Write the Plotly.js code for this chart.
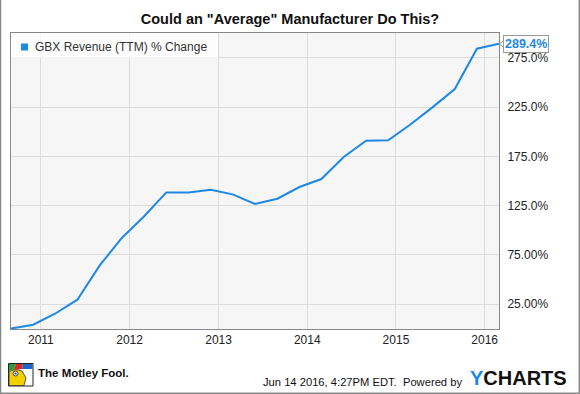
<!DOCTYPE html>
<html>
<head>
<meta charset="utf-8">
<script src="https://cdn.plot.ly/plotly-3.0.1.min.js"></script>
<style>html,body{margin:0;padding:0;background:#fff;}#chart{width:580px;height:394px;}</style>
</head>
<body>
<div id="chart"></div>
<script>
// Quarterly dates (Greenbrier fiscal quarter ends)
const dates = ['2010-08-31','2010-11-30','2011-02-28','2011-05-31','2011-08-31','2011-11-30',
  '2012-02-29','2012-05-31','2012-08-31','2012-11-30','2013-02-28','2013-05-31','2013-08-31',
  '2013-11-30','2014-02-28','2014-05-31','2014-08-31','2014-11-30','2015-02-28','2015-05-31',
  '2015-08-31','2015-11-30','2016-02-29'];
// GBX Revenue (TTM) % change
const pctChange = [0, 4.0, 15.1, 29.4, 64.2, 92.1, 114.0, 138.4, 138.4, 141.2, 136.4, 126.6,
  132.0, 143.9, 152.0, 174.4, 191.0, 191.3, 207.2, 224.8, 243.5, 284.4, 289.4];
const yTickVals = [25, 75, 125, 175, 225, 275];
const yTickText = ['25.00%', '75.00%', '125.0%', '175.0%', '225.0%', '275.0%'];
const xTickVals = ['2011-01-01','2012-01-01','2013-01-01','2014-01-01','2015-01-01','2016-01-01'];
const xTickText = ['2011','2012','2013','2014','2015','2016'];
const seriesName = 'GBX Revenue (TTM) % Change';
const lastLabel = '289.4%';

const W = 580, H = 394, ML = 11, MR = 81, MT = 33, MB = 65;
const PW = W - ML - MR, PH = H - MT - MB;
const px = x => (x - ML) / PW;
const py = y => (H - MB - y) / PH;
const FONT = 'Liberation Sans, Arial, sans-serif';
const BLUE = '#1e88e5';

const trace = {
  type: 'scatter', mode: 'lines', x: dates, y: pctChange, name: seriesName,
  line: {color: BLUE, width: 2}, showlegend: false, hoverinfo: 'x+y'
};

const shapes = [
  // legend background
  {type: 'rect', xref: 'paper', yref: 'paper', x0: 0, x1: px(218), y0: py(58), y1: 1,
   fillcolor: 'rgba(255,255,255,0.75)', line: {width: 0}, layer: 'above'},
  // legend swatch
  {type: 'rect', xref: 'paper', yref: 'paper', x0: px(21), x1: px(28), y0: py(50.5), y1: py(43.5),
   fillcolor: BLUE, line: {width: 0}, layer: 'above'},
  // outer frame (left, right, bottom)
  {type: 'line', xref: 'paper', yref: 'paper', x0: px(0.5), x1: px(0.5), y0: py(0), y1: py(394), line: {color: '#888', width: 1.5}},
  {type: 'line', xref: 'paper', yref: 'paper', x0: px(579.3), x1: px(579.3), y0: py(0), y1: py(394), line: {color: '#888', width: 1.5}},
  {type: 'line', xref: 'paper', yref: 'paper', x0: px(0), x1: px(580), y0: py(393.2), y1: py(393.2), line: {color: '#888', width: 1.5}},
  // Motley Fool jester logo (approximation)
  {type: 'rect', xref: 'paper', yref: 'paper', x0: px(8.5), x1: px(33), y0: py(386), y1: py(363.5),
   fillcolor: '#fff', line: {color: '#222', width: 1}},
  {type: 'path', xref: 'paper', yref: 'paper',
   path: `M ${px(9)},${py(385.5)} L ${px(9)},${py(372)} Q ${px(14)},${py(368)} ${px(22)},${py(371)} L ${px(26)},${py(378)} L ${px(24)},${py(385.5)} Z`,
   fillcolor: '#f5d000', line: {color: '#333', width: 0.8}},
  {type: 'path', xref: 'paper', yref: 'paper',
   path: `M ${px(9)},${py(364)} L ${px(16)},${py(364)} L ${px(14)},${py(370)} L ${px(9)},${py(371)} Z`,
   fillcolor: '#2a9d3a', line: {width: 0}},
  {type: 'path', xref: 'paper', yref: 'paper',
   path: `M ${px(16)},${py(364)} L ${px(23)},${py(364)} L ${px(22)},${py(369)} L ${px(14)},${py(370)} Z`,
   fillcolor: '#d9262c', line: {width: 0}},
  {type: 'path', xref: 'paper', yref: 'paper',
   path: `M ${px(23)},${py(364)} L ${px(32.5)},${py(364)} L ${px(32.5)},${py(369)} L ${px(22)},${py(369)} Z`,
   fillcolor: '#2461c4', line: {width: 0}},
  {type: 'circle', xref: 'paper', yref: 'paper', x0: px(13), x1: px(18), y0: py(376), y1: py(371),
   fillcolor: '#fff', line: {color: '#222', width: 0.8}},
  {type: 'circle', xref: 'paper', yref: 'paper', x0: px(14.5), x1: px(16.8), y0: py(374.8), y1: py(372.5),
   fillcolor: '#2461c4', line: {width: 0}},
  // pointer of value label
  {type: 'path', xref: 'paper', yref: 'paper',
   path: `M ${px(499.5)},${py(44)} L ${px(503.8)},${py(40.5)} L ${px(503.8)},${py(47.5)} Z`,
   fillcolor: '#fff', line: {color: '#999', width: 1}}
];

const annotations = [
  {xref: 'paper', yref: 'paper', x: px(33), y: py(46.5), xanchor: 'left', yanchor: 'middle',
   text: seriesName, showarrow: false, font: {family: FONT, size: 12, color: '#333'}},
  {xref: 'paper', yref: 'y', x: px(503.3), y: pctChange[pctChange.length - 1], xanchor: 'left', yanchor: 'middle',
   text: '<b>' + lastLabel + '</b>', showarrow: false, bgcolor: '#fff', bordercolor: '#999', borderwidth: 1, borderpad: 1,
   font: {family: FONT, size: 12.5, color: BLUE}},
  {xref: 'paper', yref: 'paper', x: px(36), y: py(372.5), xanchor: 'left', yanchor: 'middle',
   text: '<b>The Motley Fool.</b>', showarrow: false, font: {family: FONT, size: 11.5, color: '#111'}},
  {xref: 'paper', yref: 'paper', x: px(464), y: py(381.5), xanchor: 'right', yanchor: 'middle',
   text: 'Jun 14 2016, 4:27PM EDT.  Powered by', showarrow: false, font: {family: FONT, size: 11.2, color: '#111'}},
  {xref: 'paper', yref: 'paper', x: px(569), y: py(377.5), xanchor: 'right', yanchor: 'middle',
   text: '<b><span style="color:' + BLUE + '">Y</span>CHARTS</b>', showarrow: false,
   font: {family: FONT, size: 20, color: '#111'}}
];

const layout = {
  width: W, height: H,
  margin: {l: ML, r: MR, t: MT, b: MB, pad: 0},
  paper_bgcolor: '#fff', plot_bgcolor: '#f6f6f6',
  title: {text: '<b>Could an "Average" Manufacturer Do This?</b>', x: 0.5, xref: 'container',
          y: 1 - 19 / H, yref: 'container', yanchor: 'middle',
          font: {family: FONT, size: 14.5, color: '#111'}},
  xaxis: {type: 'date', range: [dates[0], dates[dates.length - 1]], tickvals: xTickVals, ticktext: xTickText,
          showgrid: true, gridcolor: '#dcdcdc', gridwidth: 1, zeroline: false,
          showline: true, linecolor: '#888', linewidth: 1, mirror: true, ticks: '',
          tickfont: {family: FONT, size: 12, color: '#222'}},
  yaxis: {range: [-0.4, 300.4], side: 'right', tickvals: yTickVals, ticktext: yTickText,
          showgrid: true, gridcolor: '#dcdcdc', gridwidth: 1, zeroline: false,
          showline: true, linecolor: '#888', linewidth: 1, mirror: true,
          ticks: 'outside', ticklen: 5, tickcolor: 'rgba(0,0,0,0)',
          tickfont: {family: FONT, size: 12, color: '#222'}},
  showlegend: false,
  shapes: shapes,
  annotations: annotations
};

Plotly.newPlot('chart', [trace], layout, {displayModeBar: false, staticPlot: true});
</script>
</body>
</html>
